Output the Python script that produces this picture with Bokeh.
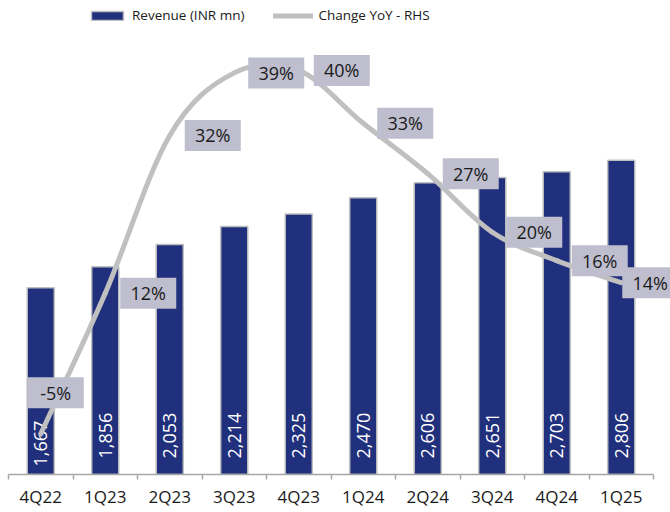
from bokeh.plotting import figure
from bokeh.models import Range1d, FixedTicker, Legend, LegendItem, ColumnDataSource
from bokeh.core.properties import value
from bokeh.embed import file_html
from bokeh.resources import INLINE

# ---------------- data ----------------
categories = ["4Q22", "1Q23", "2Q23", "3Q23", "4Q23", "1Q24", "2Q24", "3Q24", "4Q24", "1Q25"]
revenue = [1667, 1856, 2053, 2214, 2325, 2470, 2606, 2651, 2703, 2806]
yoy_change = [-5.0, 12.3, 31.7, 39.4, 39.7, 33.2, 27.0, 19.8, 16.3, 13.6]

# ---------------- layout / style ----------------
FONT = "Open Sans"
BAR_COLOR = "#20307C"
BAR_EDGE = "#BFBFBF"
LINE_COLOR = "#C0C0C0"
BOX_COLOR = "#BEBECE"
TEXT_COLOR = "#1A1A1A"
AXIS_COLOR = "#A6A6A6"

LEFT_BORDER = 8
FRAME_W = 662
FRAME_H = 474
CAT_PX = 64.5          # pixels per category
LEFT_PX = 0.112        # pixels per INR mn
PCT_PX = 8.13          # pixels per percentage point
PCT_START = -10.0

n = len(categories)
x_end = FRAME_W / CAT_PX
y_end = FRAME_H / LEFT_PX
pct_end = PCT_START + FRAME_H / PCT_PX

# label placement (screen pixel offsets from each point)
label_dx_px = [15, 43, 43, 42, 43, 42, 43, 42, 43, 29]
label_dy_px = [41, 0, 0, 0, 0, 0, 0, 0, 0, 0]
bar_label_pad_px = [8, 16, 16, 16, 16, 16, 16, 16, 16, 16]

xc = [i + 0.5 for i in range(n)]

p = figure(
    frame_width=FRAME_W, frame_height=FRAME_H,
    x_range=Range1d(0, x_end), y_range=Range1d(0, y_end),
    output_backend="svg", toolbar_location=None,
    min_border_left=LEFT_BORDER, min_border_right=0, min_border_top=0, min_border_bottom=0,
)
p.extra_y_ranges = {"pct": Range1d(PCT_START, pct_end)}
p.background_fill_color = "white"
p.border_fill_color = "white"
p.outline_line_color = None
p.xgrid.visible = False
p.ygrid.visible = False
p.yaxis.visible = False

# bars
bar_src = ColumnDataSource(dict(
    x=xc, top=revenue,
    label=[f"{v:,}" for v in revenue],
    ly=[pad / LEFT_PX for pad in bar_label_pad_px],
))
bars = p.vbar(x="x", top="top", width=0.42, bottom=0, source=bar_src,
              fill_color=BAR_COLOR, line_color=BAR_EDGE, line_width=1.5)
p.text(x="x", y="ly", text="label", source=bar_src, angle=1.5707963,
       text_align="left", text_baseline="middle", text_color="white",
       text_font=value(FONT), text_font_size="18px")

# smoothed YoY line (Catmull-Rom style Bezier through the data points)
def tangent(i):
    a = max(i - 1, 0)
    b = min(i + 1, n - 1)
    return (xc[b] - xc[a], yoy_change[b] - yoy_change[a])

seg = dict(x0=[], y0=[], x1=[], y1=[], cx0=[], cy0=[], cx1=[], cy1=[])
for i in range(n - 1):
    t0 = tangent(i)
    t1 = tangent(i + 1)
    seg["x0"].append(xc[i]); seg["y0"].append(yoy_change[i])
    seg["x1"].append(xc[i + 1]); seg["y1"].append(yoy_change[i + 1])
    seg["cx0"].append(xc[i] + t0[0] / 6); seg["cy0"].append(yoy_change[i] + t0[1] / 6)
    seg["cx1"].append(xc[i + 1] - t1[0] / 6); seg["cy1"].append(yoy_change[i + 1] - t1[1] / 6)
curve = p.bezier(source=ColumnDataSource(seg), x0="x0", y0="y0", x1="x1", y1="y1",
                 cx0="cx0", cy0="cy0", cx1="cx1", cy1="cy1",
                 line_color=LINE_COLOR, line_width=5, line_cap="round",
                 y_range_name="pct")

# percentage labels with boxes
lab_src = ColumnDataSource(dict(
    x=[xc[i] + label_dx_px[i] / CAT_PX for i in range(n)],
    y=[yoy_change[i] + label_dy_px[i] / PCT_PX for i in range(n)],
    text=[f"{v:.0f}%" for v in yoy_change],
))
p.rect(x="x", y="y", width=56, height=31, width_units="screen", height_units="screen",
       source=lab_src, fill_color=BOX_COLOR, line_color=None, y_range_name="pct")
p.text(x="x", y="y", text="text", source=lab_src, text_align="center",
       text_baseline="middle", text_color=TEXT_COLOR, text_font=value(FONT),
       text_font_size="18px", y_range_name="pct")

# x axis: ticks at category boundaries, labels centered
ax = p.xaxis[0]
ax.ticker = FixedTicker(ticks=xc, minor_ticks=list(range(n + 1)))
ax.major_label_overrides = {x: c for x, c in zip(xc, categories)}
ax.bounds = (0, n)
ax.axis_line_color = AXIS_COLOR
ax.axis_line_width = 1.5
ax.major_tick_out = 0
ax.major_tick_in = 0
ax.minor_tick_out = 5
ax.minor_tick_in = 0
ax.minor_tick_line_color = AXIS_COLOR
ax.minor_tick_line_width = 1.5
ax.major_label_standoff = 5
ax.major_label_text_font = FONT
ax.major_label_text_font_size = "17px"
ax.major_label_text_color = TEXT_COLOR

# legend
legend = Legend(
    items=[LegendItem(label="Revenue (INR mn)", renderers=[bars]),
           LegendItem(label="Change YoY - RHS", renderers=[curve])],
    orientation="horizontal", location=(79, FRAME_H - 24),
    glyph_width=40, glyph_height=11, label_standoff=5, spacing=29,
    padding=0, margin=0, border_line_color=None, background_fill_alpha=0,
    label_text_font=FONT, label_text_font_size="13.5px", label_text_color=TEXT_COLOR,
    label_height=11,
)
p.add_layout(legend)

open("out.html", "w").write(file_html(p, INLINE))
